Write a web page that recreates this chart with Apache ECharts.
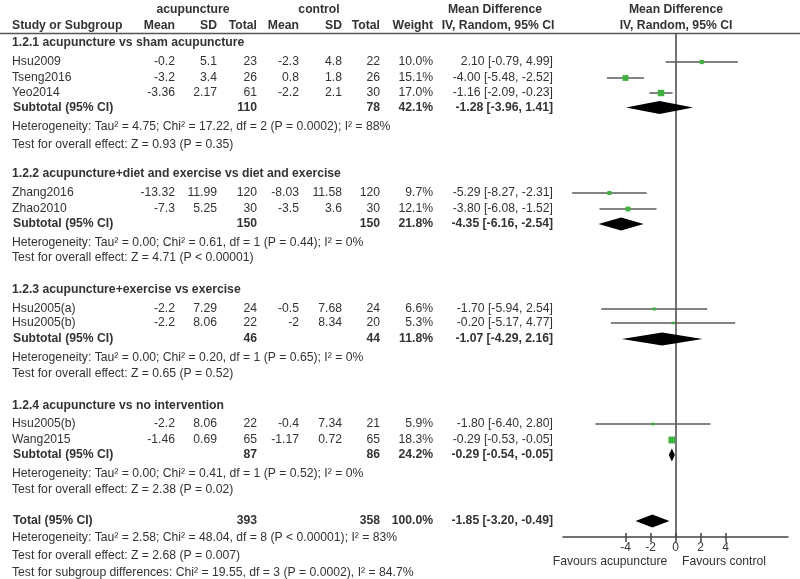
<!DOCTYPE html>
<html><head><meta charset="utf-8">
<script src="https://cdn.jsdelivr.net/npm/echarts@6/dist/echarts.min.js"></script>
<style>html,body{margin:0;padding:0;background:#fff}#c{width:800px;height:579px}</style>
</head><body><div id="c"></div>
<script>
// ---------------- DATA ----------------
const studyNames = ['Hsu2009','Tseng2016','Yeo2014','Zhang2016','Zhao2010','Hsu2005(a)','Hsu2005(b)','Hsu2005(b)','Wang2015'];
const acuMean = ['-0.2','-3.2','-3.36','-13.32','-7.3','-2.2','-2.2','-2.2','-1.46'];
const acuSD = ['5.1','3.4','2.17','11.99','5.25','7.29','8.06','8.06','0.69'];
const acuTotal = [23,26,61,120,30,24,22,22,65];
const ctrlMean = ['-2.3','0.8','-2.2','-8.03','-3.5','-0.5','-2','-0.4','-1.17'];
const ctrlSD = ['4.8','1.8','2.1','11.58','3.6','7.68','8.34','7.34','0.72'];
const ctrlTotal = [22,26,30,120,30,24,20,21,65];
const studyWeight = [10.0,15.1,17.0,9.7,12.1,6.6,5.3,5.9,18.3];
const studyMD = [2.10,-4.00,-1.16,-5.29,-3.80,-1.70,-0.20,-1.80,-0.29];
const studyLo = [-0.79,-5.48,-2.09,-8.27,-6.08,-5.94,-5.17,-6.40,-0.53];
const studyHi = [4.99,-2.52,-0.23,-2.31,-1.52,2.54,4.77,2.80,-0.05];

const groupNames = ['1.2.1 acupuncture vs sham acupuncture','1.2.2 acupuncture+diet and exercise vs diet and exercise','1.2.3 acupuncture+exercise vs exercise','1.2.4 acupuncture vs no intervention'];
const groupAcuTotal = [110,150,46,87];
const groupCtrlTotal = [78,150,44,86];
const groupWeight = [42.1,21.8,11.8,24.2];
const groupMD = [-1.28,-4.35,-1.07,-0.29];
const groupLo = [-3.96,-6.16,-4.29,-0.54];
const groupHi = [1.41,-2.54,2.16,-0.05];
const groupHet = [
  'Heterogeneity: Tau\u00b2 = 4.75; Chi\u00b2 = 17.22, df = 2 (P = 0.0002); I\u00b2 = 88%',
  'Heterogeneity: Tau\u00b2 = 0.00; Chi\u00b2 = 0.61, df = 1 (P = 0.44); I\u00b2 = 0%',
  'Heterogeneity: Tau\u00b2 = 0.00; Chi\u00b2 = 0.20, df = 1 (P = 0.65); I\u00b2 = 0%',
  'Heterogeneity: Tau\u00b2 = 0.00; Chi\u00b2 = 0.41, df = 1 (P = 0.52); I\u00b2 = 0%'
];
const groupTest = [
  'Test for overall effect: Z = 0.93 (P = 0.35)',
  'Test for overall effect: Z = 4.71 (P < 0.00001)',
  'Test for overall effect: Z = 0.65 (P = 0.52)',
  'Test for overall effect: Z = 2.38 (P = 0.02)'
];
const totalAcuTotal = [393];
const totalCtrlTotal = [358];
const totalWeight = [100.0];
const totalMD = [-1.85];
const totalLo = [-3.20];
const totalHi = [-0.49];
const totalNotes = [
  'Heterogeneity: Tau\u00b2 = 2.58; Chi\u00b2 = 48.04, df = 8 (P < 0.00001); I\u00b2 = 83%',
  'Test for overall effect: Z = 2.68 (P = 0.007)',
  'Test for subgroup differences: Chi\u00b2 = 19.55, df = 3 (P = 0.0002), I\u00b2 = 84.7%'
];
const axisTickValues = [-4,-2,0,2,4];

// ---------------- LAYOUT (row positions in px) ----------------
const headingY = [43,174,290,406];
const studyY = [62,78,93,193,209,309,323,424,440];
const subtotalY = [107.5,224,339,455];
const hetY = [127,243,358,474];
const testY = [145,258,374,490];
const totalY = 521;
const notesY = [538,556,573];
const col = {name:12, acuMean:175, acuSD:217, acuTotal:257, ctrlMean:299, ctrlSD:342, ctrlTotal:380, weight:433, ci:553};
const FONT = 'Liberation Sans, Arial, sans-serif';
const TXT = '#333';

function fmt(v){ return v.toFixed(2); }
function ciText(m,l,h){ return fmt(m)+' ['+fmt(l)+', '+fmt(h)+']'; }

const graphics = [];
function T(text,x,y,align,bold){
  graphics.push({type:'text', x:x, y:y, silent:true, style:{text:String(text), x:0, y:0, align:align||'left', verticalAlign:'middle', fill:TXT, font:(bold?'bold ':'')+'12.2px '+FONT}});
}
// headers
T('acupuncture',193,10,'center',true);
T('control',319,10,'center',true);
T('Mean Difference',495,10,'center',true);
T('Mean Difference',676,10,'center',true);
T('Study or Subgroup',col.name,26,'left',true);
T('Mean',col.acuMean,26,'right',true);
T('SD',col.acuSD,26,'right',true);
T('Total',col.acuTotal,26,'right',true);
T('Mean',col.ctrlMean,26,'right',true);
T('SD',col.ctrlSD,26,'right',true);
T('Total',col.ctrlTotal,26,'right',true);
T('Weight',col.weight,26,'right',true);
T('IV, Random, 95% CI',498,26,'center',true);
T('IV, Random, 95% CI',676,26,'center',true);
graphics.push({type:'line', silent:true, shape:{x1:0,y1:33.5,x2:800,y2:33.5}, style:{stroke:'#555',lineWidth:1.5}});

for(let g=0; g<groupNames.length; g++){
  T(groupNames[g],col.name,headingY[g],'left',true);
  T('Subtotal (95% CI)',col.name+1,subtotalY[g],'left',true);
  T(groupAcuTotal[g],col.acuTotal,subtotalY[g],'right',true);
  T(groupCtrlTotal[g],col.ctrlTotal,subtotalY[g],'right',true);
  T(groupWeight[g].toFixed(1)+'%',col.weight,subtotalY[g],'right',true);
  T(ciText(groupMD[g],groupLo[g],groupHi[g]),col.ci,subtotalY[g],'right',true);
  T(groupHet[g],col.name,hetY[g],'left',false);
  T(groupTest[g],col.name,testY[g],'left',false);
}
for(let i=0;i<studyNames.length;i++){
  const y=studyY[i];
  T(studyNames[i],col.name,y,'left',false);
  T(acuMean[i],col.acuMean,y,'right',false);
  T(acuSD[i],col.acuSD,y,'right',false);
  T(acuTotal[i],col.acuTotal,y,'right',false);
  T(ctrlMean[i],col.ctrlMean,y,'right',false);
  T(ctrlSD[i],col.ctrlSD,y,'right',false);
  T(ctrlTotal[i],col.ctrlTotal,y,'right',false);
  T(studyWeight[i].toFixed(1)+'%',col.weight,y,'right',false);
  T(ciText(studyMD[i],studyLo[i],studyHi[i]),col.ci,y,'right',false);
}
T('Total (95% CI)',col.name+1,totalY,'left',true);
T(totalAcuTotal[0],col.acuTotal,totalY,'right',true);
T(totalCtrlTotal[0],col.ctrlTotal,totalY,'right',true);
T(totalWeight[0].toFixed(1)+'%',col.weight,totalY,'right',true);
T(ciText(totalMD[0],totalLo[0],totalHi[0]),col.ci,totalY,'right',true);
for(let k=0;k<totalNotes.length;k++) T(totalNotes[k],col.name,notesY[k],'left',false);
T('Favours acupuncture',610,562,'center',false);
T('Favours control',724,562,'center',false);

// ---------------- SERIES DATA ----------------
const studyData = studyNames.map((n,i)=>[studyMD[i],studyLo[i],studyHi[i],studyY[i],studyWeight[i]]);
const diamondData = groupMD.map((m,g)=>[m,groupLo[g],groupHi[g],subtotalY[g]]);
diamondData.push([totalMD[0],totalLo[0],totalHi[0],totalY]);

const chart = echarts.init(document.getElementById('c'), null, {renderer:'canvas'});
chart.setOption({
  animation:false,
  backgroundColor:'#fff',
  grid:{left:563, width:225, top:34, height:503, containLabel:false},
  xAxis:[{
    type:'value', min:-9, max:9, position:'bottom',
    axisLine:{show:true, onZero:false, lineStyle:{color:'#444', width:1.5}},
    axisTick:{show:true, customValues:axisTickValues, length:5, lineStyle:{color:'#444', width:1.5}},
    axisLabel:{show:true, customValues:axisTickValues, color:TXT, fontSize:12, fontFamily:FONT, margin:5},
    splitLine:{show:false}
  },{
    type:'value', min:-9, max:9, position:'bottom',
    axisLine:{show:false, onZero:false},
    axisTick:{show:true, inside:true, customValues:axisTickValues, length:4, lineStyle:{color:'#444', width:1.5}},
    axisLabel:{show:false},
    splitLine:{show:false}
  }],
  yAxis:{
    type:'value', min:34, max:537, inverse:true,
    axisLine:{show:true, onZero:true, lineStyle:{color:'#444', width:1.5}},
    axisTick:{show:false}, axisLabel:{show:false}, splitLine:{show:false}
  },
  series:[{
    type:'custom', clip:false, data:studyData,
    encode:{x:[0,1,2], y:3},
    renderItem:function(params, api){
      const y=api.value(3);
      const a=api.coord([api.value(1),y]);
      const b=api.coord([api.value(2),y]);
      const m=api.coord([api.value(0),y]);
      const s=1+api.value(4)*0.32;
      return {type:'group', children:[
        {type:'line', shape:{x1:a[0],y1:a[1],x2:b[0],y2:b[1]}, style:{stroke:'#5a5a5a', lineWidth:1.5}},
        {type:'rect', shape:{x:m[0]-s/2,y:m[1]-s/2,width:s,height:s}, style:{fill:'#3cb43c'}}
      ]};
    }
  },{
    type:'custom', clip:false, data:diamondData,
    encode:{x:[0,1,2], y:3},
    renderItem:function(params, api){
      const y=api.value(3);
      const a=api.coord([api.value(1),y]);
      const b=api.coord([api.value(2),y]);
      const m=api.coord([api.value(0),y]);
      const h=6.5;
      return {type:'polygon', shape:{points:[[a[0],a[1]],[m[0],m[1]-h],[b[0],b[1]],[m[0],m[1]+h]]}, style:{fill:'#000'}};
    }
  }],
  graphic:graphics
});
</script>
</body></html>
